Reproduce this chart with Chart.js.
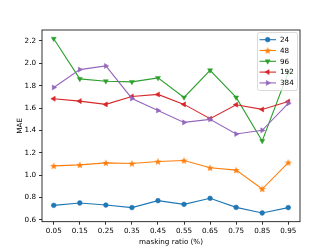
<!DOCTYPE html>
<html>
<head>
<meta charset="utf-8">
<script src="https://cdn.jsdelivr.net/npm/chart.js@4/dist/chart.umd.min.js"></script>
<style>
html, body { margin: 0; padding: 0; background: #fff; }
#wrap { width: 334px; height: 250px; }
</style>
</head>
<body>
<div id="wrap"><canvas id="chart"></canvas></div>
<script>
const ratios = [0.05, 0.15, 0.25, 0.35, 0.45, 0.55, 0.65, 0.75, 0.85, 0.95];
const mae24 = [0.730, 0.751, 0.733, 0.710, 0.772, 0.739, 0.793, 0.712, 0.662, 0.710];
const mae48 = [1.083, 1.092, 1.110, 1.104, 1.122, 1.131, 1.066, 1.045, 0.876, 1.113];
const mae96 = [2.220, 1.861, 1.840, 1.834, 1.870, 1.695, 1.938, 1.695, 1.306, 1.920];
const mae192 = [1.683, 1.662, 1.633, 1.704, 1.722, 1.633, 1.505, 1.630, 1.588, 1.659];
const mae384 = [1.784, 1.944, 1.977, 1.686, 1.579, 1.472, 1.499, 1.368, 1.401, 1.642];
const seriesNames = ['24', '48', '96', '192', '384'];
const yTicks = [0.6, 0.8, 1.0, 1.2, 1.4, 1.6, 1.8, 2.0, 2.2];

const FONT = 'DejaVu Sans';

// filled star like matplotlib's '*'
function starImage(color) {
    const c = document.createElement('canvas');
    c.width = 8; c.height = 8;
    const g = c.getContext('2d');
    g.fillStyle = color;
    g.beginPath();
    for (let i = 0; i < 10; i++) {
        const r = i % 2 === 0 ? 3.8 : 1.6;
        const a = -Math.PI / 2 + i * Math.PI / 5;
        g.lineTo(4 + r * Math.cos(a), 4.3 + r * Math.sin(a));
    }
    g.closePath();
    g.fill();
    return c;
}

const colors = ['#1f77b4', '#ff7f0e', '#2ca02c', '#d62728', '#9467bd'];
const styles = [
    { pointStyle: 'circle', radius: 2.4, rotation: 0 },
    { pointStyle: starImage(colors[1]), radius: 3, rotation: 0 },
    { pointStyle: 'triangle', radius: 2.9, rotation: 180 },
    { pointStyle: 'triangle', radius: 2.9, rotation: 270 },
    { pointStyle: 'triangle', radius: 2.9, rotation: 90 }
];
const allSeries = [mae24, mae48, mae96, mae192, mae384];

const datasets = allSeries.map((vals, i) => ({
    label: seriesNames[i],
    data: ratios.map((r, j) => ({ x: r, y: vals[j] })),
    borderColor: colors[i],
    backgroundColor: colors[i],
    borderWidth: 1.1,
    pointStyle: styles[i].pointStyle,
    pointRadius: styles[i].radius,
    pointRotation: styles[i].rotation,
    pointBorderWidth: 0.5,
    order: allSeries.length - i,
    tension: 0
}));

const frame = {
    id: 'frame',
    afterDraw(chart) {
        const { ctx, chartArea: a } = chart;
        ctx.save();
        // legend box, upper right inside the axes
        const x0 = a.right - 43, y0 = a.top + 2, w = 40, h = 58;
        ctx.fillStyle = 'rgba(255,255,255,0.8)';
        ctx.strokeStyle = '#d0d0d0';
        ctx.lineWidth = 0.8;
        ctx.beginPath();
        ctx.roundRect(x0 + 0.5, y0 + 0.5, w, h, 2);
        ctx.fill();
        ctx.stroke();
        ctx.font = '7.2px "' + FONT + '"';
        ctx.textBaseline = 'middle';
        ctx.textAlign = 'left';
        seriesNames.forEach((name, i) => {
            const y = y0 + 7.7 + i * 10.8;
            ctx.strokeStyle = colors[i];
            ctx.fillStyle = colors[i];
            ctx.lineWidth = 1.1;
            ctx.beginPath();
            ctx.moveTo(x0 + 2.5, y);
            ctx.lineTo(x0 + 19, y);
            ctx.stroke();
            ctx.lineWidth = 0.5;
            Chart.helpers.drawPoint(ctx, {
                pointStyle: styles[i].pointStyle,
                radius: styles[i].radius,
                rotation: styles[i].rotation,
                borderWidth: 0.5
            }, x0 + 10.7, y);
            ctx.fillStyle = '#000';
            ctx.fillText(name, x0 + 23, y + 0.5);
        });
        // axes spines
        ctx.strokeStyle = '#000';
        ctx.lineWidth = 0.8;
        ctx.strokeRect(a.left, a.top, a.right - a.left, a.bottom - a.top);
        ctx.restore();
    }
};

new Chart(document.getElementById('chart'), {
    type: 'line',
    data: { datasets },
    options: {
        animation: false,
        responsive: true,
        maintainAspectRatio: false,
        layout: { padding: { top: 30, right: 34, left: 0, bottom: 0 } },
        plugins: {
            legend: { display: false },
            tooltip: { enabled: false }
        },
        scales: {
            x: {
                type: 'linear',
                min: 0.005,
                max: 0.995,
                afterBuildTicks: s => { s.ticks = ratios.map(v => ({ value: v })); },
                afterFit: s => { s.height = 28.3; },
                grid: { drawOnChartArea: false, drawTicks: true, tickLength: 3, color: '#000', lineWidth: 0.8 },
                border: { display: false },
                ticks: {
                    color: '#000',
                    padding: 2,
                    maxRotation: 0,
                    autoSkip: false,
                    font: { family: FONT, size: 7.2 },
                    callback: v => v.toFixed(2)
                },
                title: {
                    display: true,
                    text: 'masking ratio (%)',
                    color: '#000',
                    padding: { top: 1, bottom: 4 },
                    font: { family: FONT, size: 7.2 }
                }
            },
            y: {
                type: 'linear',
                min: 0.584,
                max: 2.298,
                afterBuildTicks: s => { s.ticks = yTicks.map(v => ({ value: v })); },
                afterFit: s => { s.width = 42; },
                grid: { drawOnChartArea: false, drawTicks: true, tickLength: 3, color: '#000', lineWidth: 0.8 },
                border: { display: false },
                ticks: {
                    color: '#000',
                    padding: 3,
                    font: { family: FONT, size: 7.2 },
                    callback: v => v.toFixed(1)
                },
                title: {
                    display: true,
                    text: 'MAE',
                    color: '#000',
                    padding: { top: 16, bottom: 0 },
                    font: { family: FONT, size: 7.2 }
                }
            }
        }
    },
    plugins: [frame]
});
</script>
</body>
</html>
